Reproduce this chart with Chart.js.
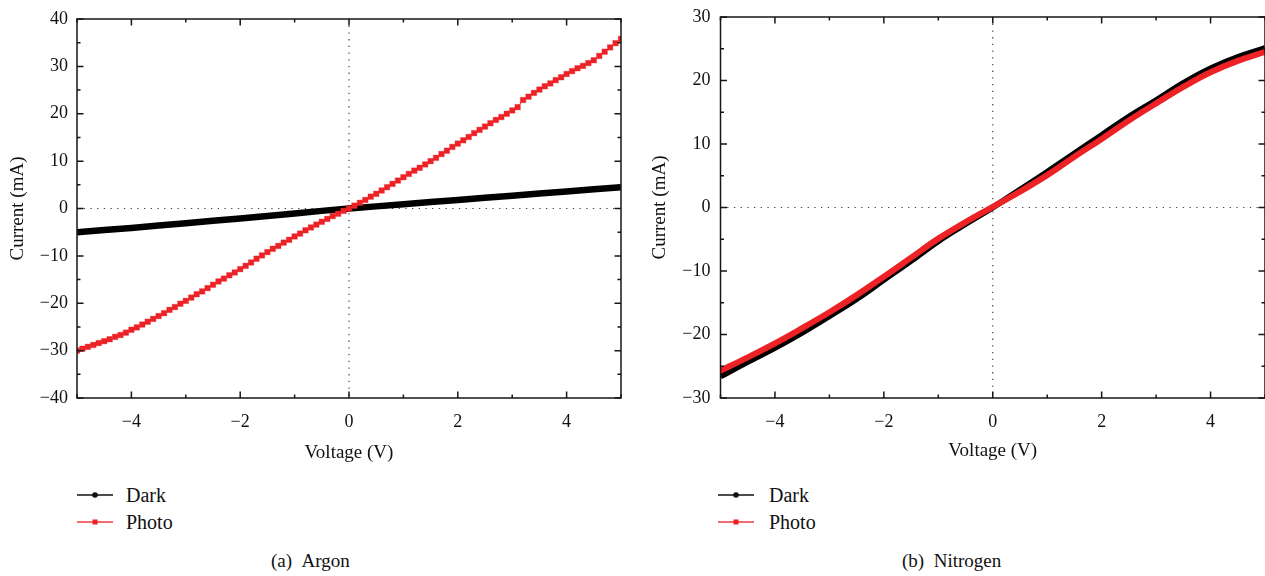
<!DOCTYPE html>
<html lang="en">
<head>
    <meta charset="UTF-8">
    <title>I-V curves: Argon and Nitrogen</title>
    <script src="https://cdn.jsdelivr.net/npm/chart.js"></script>
    <style>
        body { margin: 0; background: #fff; font-family: "Liberation Serif", "Times New Roman", serif; }
        #page { position: relative; width: 1265px; height: 576px; overflow: hidden; }
        canvas { position: absolute; top: 0; }
        .leg { position: absolute; font-size: 20px; line-height: 20px; color: #111; white-space: nowrap; }
        .icon { position: absolute; }
        .cap { position: absolute; font-size: 19px; line-height: 20px; color: #111; white-space: nowrap; }
    </style>
</head>
<body>
<div id="page">
    <canvas id="argon" width="640" height="475" style="left:0"></canvas>
    <canvas id="nitrogen" width="625" height="475" style="left:640px"></canvas>

    <svg class="icon" width="36" height="10" style="left:77px;top:490px"><line x1="0" y1="5" x2="36" y2="5" stroke="#111" stroke-width="1.5"/><circle cx="18" cy="5" r="2.8" fill="#111"/></svg>
    <div class="leg" style="left:126px;top:485px">Dark</div>
    <svg class="icon" width="36" height="10" style="left:77px;top:517px"><line x1="0" y1="5" x2="36" y2="5" stroke="#ee3a3f" stroke-width="1.5"/><rect x="15.5" y="2.5" width="5" height="5" fill="#ec2227"/></svg>
    <div class="leg" style="left:126px;top:512px">Photo</div>

    <svg class="icon" width="36" height="10" style="left:718px;top:490px"><line x1="0" y1="5" x2="36" y2="5" stroke="#111" stroke-width="1.5"/><circle cx="18" cy="5" r="2.8" fill="#111"/></svg>
    <div class="leg" style="left:769px;top:485px">Dark</div>
    <svg class="icon" width="36" height="10" style="left:718px;top:517px"><line x1="0" y1="5" x2="36" y2="5" stroke="#ee3a3f" stroke-width="1.5"/><rect x="15.5" y="2.5" width="5" height="5" fill="#ec2227"/></svg>
    <div class="leg" style="left:769px;top:512px">Photo</div>

    <div class="cap" style="left:271px;top:551px">(a)&nbsp;&nbsp;Argon</div>
    <div class="cap" style="left:902px;top:551px">(b)&nbsp;&nbsp;Nitrogen</div>
</div>

<script>
    // voltage sweep of the Argon photo curve (one marker every 0.1 V)
    const voltsFine = [-5.0, -4.9, -4.8, -4.7, -4.6, -4.5, -4.4, -4.3, -4.2, -4.1,
        -4.0, -3.9, -3.8, -3.7, -3.6, -3.5, -3.4, -3.3, -3.2, -3.1,
        -3.0, -2.9, -2.8, -2.7, -2.6, -2.5, -2.4, -2.3, -2.2, -2.1,
        -2.0, -1.9, -1.8, -1.7, -1.6, -1.5, -1.4, -1.3, -1.2, -1.1,
        -1.0, -0.9, -0.8, -0.7, -0.6, -0.5, -0.4, -0.3, -0.2, -0.1,
        0.0, 0.1, 0.2, 0.3, 0.4, 0.5, 0.6, 0.7, 0.8, 0.9,
        1.0, 1.1, 1.2, 1.3, 1.4, 1.5, 1.6, 1.7, 1.8, 1.9,
        2.0, 2.1, 2.2, 2.3, 2.4, 2.5, 2.6, 2.7, 2.8, 2.9,
        3.0, 3.1, 3.2, 3.3, 3.4, 3.5, 3.6, 3.7, 3.8, 3.9,
        4.0, 4.1, 4.2, 4.3, 4.4, 4.5, 4.6, 4.7, 4.8, 4.9, 5.0];

    const argonPhoto = [-30.0, -29.6, -29.2, -28.8, -28.4, -28.0, -27.6, -27.1, -26.7, -26.2,
        -25.6, -25.1, -24.5, -23.9, -23.3, -22.7, -22.1, -21.4, -20.8, -20.1,
        -19.5, -18.8, -18.1, -17.5, -16.8, -16.1, -15.4, -14.8, -14.1, -13.5,
        -12.8, -12.1, -11.4, -10.6, -9.9, -9.2, -8.5, -7.9, -7.2, -6.6,
        -5.9, -5.3, -4.6, -4.0, -3.4, -2.8, -2.2, -1.6, -1.1, -0.5,
        0.0, 0.6, 1.2, 1.8, 2.5, 3.1, 3.8, 4.5, 5.2, 5.9,
        6.6, 7.3, 8.0, 8.6, 9.3, 10.0, 10.7, 11.5, 12.2, 13.0,
        13.7, 14.4, 15.1, 15.9, 16.6, 17.3, 18.0, 18.7, 19.3, 20.0,
        20.7, 21.4, 22.9, 23.6, 24.4, 25.1, 25.8, 26.4, 27.1, 27.7,
        28.4, 29.0, 29.6, 30.1, 30.7, 31.3, 32.2, 33.1, 34.0, 34.9, 35.8];

    // coarser sampling for the continuous-looking curves
    const voltsCoarse = [-5.0, -4.5, -4.0, -3.5, -3.0, -2.5, -2.0, -1.5, -1.0, -0.5, 0.0,
        0.5, 1.0, 1.5, 2.0, 2.5, 3.0, 3.5, 4.0, 4.5, 5.0];
    const argonDark = [-5.0, -4.55, -4.1, -3.6, -3.1, -2.6, -2.1, -1.6, -1.05, -0.5, 0.0,
        0.45, 0.9, 1.35, 1.8, 2.25, 2.7, 3.15, 3.6, 4.05, 4.5];
    const nitrogenDark = [-26.6, -24.3, -22.1, -19.7, -17.1, -14.4, -11.4, -8.4, -5.3, -2.6, 0.0,
        2.8, 5.6, 8.5, 11.4, 14.3, 16.9, 19.6, 21.9, 23.7, 25.1];
    const nitrogenPhoto = [-25.7, -23.6, -21.4, -19.0, -16.5, -13.8, -10.9, -7.9, -4.9, -2.3, 0.1,
        2.5, 5.1, 8.0, 10.8, 13.7, 16.4, 19.0, 21.3, 23.1, 24.5];

    const serif = '"Liberation Serif", "Times New Roman", serif';
    const RED = '#ec2227';

    function pts(xs, ys) {
        return xs.map((v, i) => ({x: v, y: ys[i]}));
    }

    function fmt(v) {
        return v < 0 ? '\u2212' + Math.abs(v) : String(v);
    }

    // dotted zero lines, boxed frame and inward ticks on all four sides
    const framePlugin = {
        id: 'frame',
        beforeDatasetsDraw(chart) {
            const {ctx, chartArea: a, scales: {x, y}} = chart;
            const x0 = x.getPixelForValue(0), y0 = y.getPixelForValue(0);
            ctx.save();
            ctx.strokeStyle = '#444';
            ctx.lineWidth = 1.2;
            ctx.setLineDash([1.3, 5.4]);
            ctx.beginPath();
            ctx.moveTo(x0, a.top); ctx.lineTo(x0, a.bottom);
            ctx.moveTo(a.left, y0); ctx.lineTo(a.right, y0);
            ctx.stroke();
            ctx.restore();
        },
        afterDatasetsDraw(chart, args, opts) {
            const {ctx, chartArea: a, scales: {x, y}} = chart;
            ctx.save();
            ctx.strokeStyle = '#161616';
            ctx.lineWidth = 1.5;
            ctx.strokeRect(a.left, a.top, a.right - a.left, a.bottom - a.top);
            ctx.beginPath();
            x.ticks.forEach(t => {
                const px = x.getPixelForValue(t.value);
                const len = Math.abs(t.value % opts.xMajor) < 1e-9 ? 6.5 : 3.5;
                ctx.moveTo(px, a.bottom); ctx.lineTo(px, a.bottom - len);
                ctx.moveTo(px, a.top); ctx.lineTo(px, a.top + len);
            });
            y.ticks.forEach(t => {
                const py = y.getPixelForValue(t.value);
                const len = Math.abs(t.value % opts.yMajor) < 1e-9 ? 6.5 : 3.5;
                ctx.moveTo(a.left, py); ctx.lineTo(a.left + len, py);
                ctx.moveTo(a.right, py); ctx.lineTo(a.right - len, py);
            });
            ctx.stroke();
            ctx.restore();
        }
    };

    function makeChart(id, datasets, cfg) {
        return new Chart(document.getElementById(id), {
            type: 'line',
            data: {datasets: datasets},
            options: {
                responsive: false,
                animation: false,
                layout: {padding: cfg.padding},
                plugins: {
                    legend: {display: false},
                    tooltip: {enabled: false},
                    frame: {xMajor: 2, yMajor: 10}
                },
                scales: {
                    x: {
                        type: 'linear', min: -5, max: 5,
                        grid: {display: false, drawTicks: false},
                        border: {display: false},
                        ticks: {
                            stepSize: 1, autoSkip: false, maxRotation: 0, padding: 13,
                            color: '#111', font: {family: serif, size: 18},
                            callback: v => (v % 2 === 0 ? fmt(v) : '')
                        },
                        title: {
                            display: true, text: 'Voltage (V)', color: '#111',
                            font: {family: serif, size: 19}, padding: {top: 0, bottom: cfg.xTitlePad}
                        },
                        afterFit: s => {
                            s.height = cfg.xHeight;
                            s.paddingLeft = 0;
                            s.paddingRight = 0;
                        }
                    },
                    y: {
                        type: 'linear', min: cfg.yMin, max: cfg.yMax,
                        grid: {display: false, drawTicks: false},
                        border: {display: false},
                        ticks: {
                            stepSize: 5, autoSkip: false, padding: cfg.yTickPad,
                            color: '#111', font: {family: serif, size: 18},
                            callback: v => (v % 10 === 0 ? fmt(v) : '')
                        },
                        title: {
                            display: true, text: 'Current (mA)', color: '#111',
                            font: {family: serif, size: 19}, padding: {top: cfg.yTitlePad, bottom: 0}
                        },
                        afterFit: s => {
                            s.width = cfg.yWidth;
                            s.paddingTop = 0;
                            s.paddingBottom = 0;
                        }
                    }
                }
            },
            plugins: [framePlugin]
        });
    }

    makeChart('argon', [
        {
            label: 'Dark', data: pts(voltsCoarse, argonDark), order: 2,
            borderColor: '#000', borderWidth: 6.5, pointRadius: 0, clip: 0
        },
        {
            label: 'Photo', data: pts(voltsFine, argonPhoto), order: 1,
            borderColor: RED, borderWidth: 1, pointStyle: 'rect', pointRadius: 3.9,
            pointBackgroundColor: RED, pointBorderColor: 'rgba(236,34,39,0.45)', pointBorderWidth: 0.8,
            clip: 0
        }
    ], {padding: {top: 19, right: 19, bottom: 0, left: 0}, xHeight: 77, yWidth: 77,
        yMin: -40, yMax: 40, yTickPad: 9, xTitlePad: 10.5, yTitlePad: 6.5});

    makeChart('nitrogen', [
        {
            label: 'Dark', data: pts(voltsCoarse, nitrogenDark), order: 2,
            borderColor: '#000', borderWidth: 6, pointRadius: 0, tension: 0.4, clip: 0
        },
        {
            label: 'Photo', data: pts(voltsCoarse, nitrogenPhoto), order: 1,
            borderColor: RED, borderWidth: 6, pointRadius: 0, tension: 0.4, clip: 0
        }
    ], {padding: {top: 17, right: 0, bottom: 0, left: 0}, xHeight: 77, yWidth: 80.5,
        yMin: -30, yMax: 30, yTickPad: 10, xTitlePad: 12.5, yTitlePad: 8.5});
</script>
</body>
</html>
